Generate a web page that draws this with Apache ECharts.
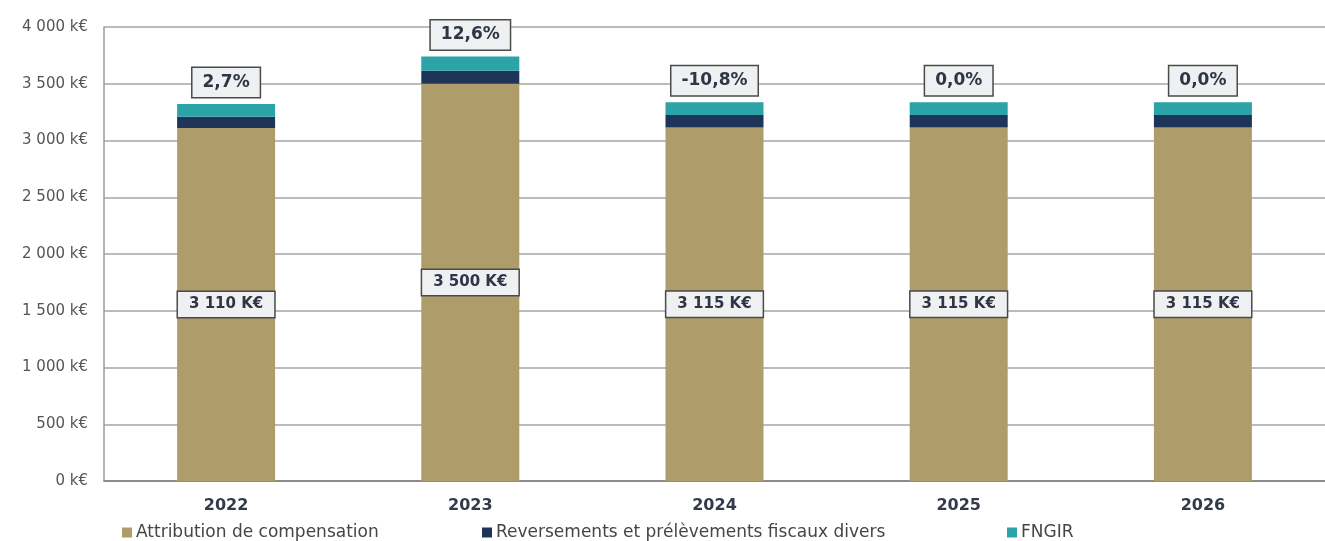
<!DOCTYPE html>
<html>
<head>
<meta charset="utf-8">
<script src="https://cdn.jsdelivr.net/npm/echarts@6/dist/echarts.min.js"></script>
<style>
  html, body { margin: 0; padding: 0; background: #ffffff; }
  #chart { width: 1325px; height: 541px; }
</style>
</head>
<body>
<div id="chart"></div>
<script>
// Years on the category axis
const years = ['2022', '2023', '2024', '2025', '2026'];

// Stacked components, in k€
const attribution = [3110, 3500, 3115, 3115, 3115];
const reversements = [100, 115, 110, 110, 110];
const fngir = [112, 126, 112, 112, 112];

// Year-over-year change of the total, in %
const growth = [2.7, 12.6, -10.8, 0.0, 0.0];

// Series names shown in the legend
const seriesNames = [
  'Attribution de compensation',
  'Reversements et prélèvements fiscaux divers',
  'FNGIR'
];

// Value axis range
const yMin = 0;
const yMax = 4000;
const yStep = 500;

const FONT = 'DejaVu Sans';
const COLORS = ['#ae9d6a', '#1e3459', '#2ba3a7'];

function thousands(v) {
  return String(v).replace(/\B(?=(\d{3})+(?!\d))/g, ' ');
}
function pct(v) {
  return v.toFixed(1).replace('.', ',') + '%';
}

const boxLabel = {
  backgroundColor: '#eef0f2',
  borderColor: '#4a4a4a',
  borderWidth: 1.5,
  color: '#2f3545',
  fontFamily: FONT,
  fontWeight: 'bold'
};

const chart = echarts.init(document.getElementById('chart'));

function legendFor(name, left) {
  return {
    data: [name],
    left: left,
    top: 524,
    padding: 0,
    itemWidth: 10,
    itemHeight: 10,
    itemGap: 0,
    icon: 'rect',
    selectedMode: false,
    textStyle: { fontFamily: FONT, fontSize: 17, color: '#454545', padding: [0, 0, 0, -1] }
  };
}

chart.setOption({
  animation: false,
  backgroundColor: '#ffffff',
  legend: [
    legendFor(seriesNames[0], 122),
    legendFor(seriesNames[1], 482),
    legendFor(seriesNames[2], 1007)
  ],
  grid: { left: 104, top: 27, width: 1231, bottom: 60, containLabel: false },
  xAxis: {
    type: 'category',
    data: years,
    axisLine: { show: true, lineStyle: { color: '#7d7d7d', width: 1.5 } },
    axisTick: { show: false },
    axisLabel: {
      margin: 17,
      fontFamily: FONT,
      fontSize: 16,
      fontWeight: 'bold',
      color: '#343a4a'
    }
  },
  yAxis: {
    type: 'value',
    min: yMin,
    max: yMax,
    interval: yStep,
    axisLine: { show: true, lineStyle: { color: '#9a9a9a', width: 1.5 } },
    axisTick: { show: false },
    splitLine: { lineStyle: { color: '#a4a4a4', width: 1.5 } },
    axisLabel: {
      margin: 16,
      fontFamily: FONT,
      fontSize: 15,
      color: '#555555',
      formatter: v => thousands(v) + ' k€'
    }
  },
  series: [
    {
      name: seriesNames[0],
      type: 'bar',
      stack: 'total',
      barWidth: 98,
      data: attribution,
      itemStyle: { color: COLORS[0] },
      label: Object.assign({
        show: true,
        position: 'inside',
        fontSize: 15,
        padding: [5, 11],
        formatter: p => thousands(p.value) + ' K€'
      }, boxLabel)
    },
    {
      name: seriesNames[1],
      type: 'bar',
      stack: 'total',
      barWidth: 98,
      data: reversements,
      itemStyle: { color: COLORS[1] }
    },
    {
      name: seriesNames[2],
      type: 'bar',
      stack: 'total',
      barWidth: 98,
      data: fngir,
      itemStyle: { color: COLORS[2] },
      label: Object.assign({
        show: true,
        position: 'top',
        distance: 7,
        fontSize: 17,
        padding: [6, 10],
        formatter: p => pct(growth[p.dataIndex])
      }, boxLabel)
    }
  ]
});
</script>
</body>
</html>
